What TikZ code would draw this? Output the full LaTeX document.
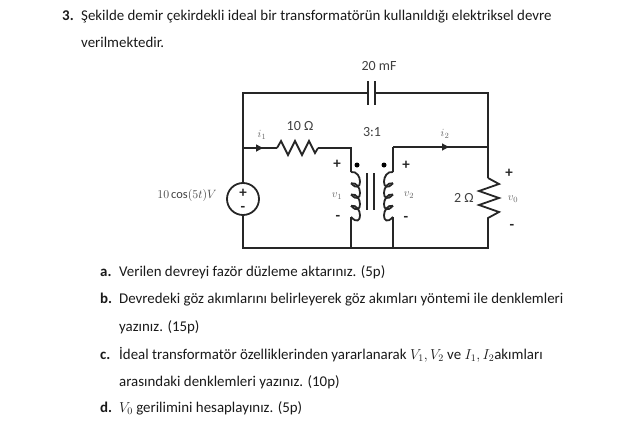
\documentclass[tikz,border=0pt]{standalone}
\usepackage{amsmath}
\usepackage{fontspec}
\setmainfont{Carlito}
\usetikzlibrary{arrows.meta, positioning, calc, decorations.markings}

\tikzset{
    wire/.style={line width=1.8pt, black!85},
    current/.style={wire, postaction={decorate}, decoration={markings, mark=at position #1 with {\arrow{Latex[length=8pt,width=8pt]}}}},
    lbl/.style={font=\fontsize{14}{16}\selectfont, text=black!75, inner sep=0pt},
    sym/.style={font=\fontsize{11}{13}\selectfont, text=black!60, inner sep=0pt},
    sign/.style={font=\fontsize{15}{17}\selectfont\bfseries, text=black!85, inner sep=0pt},
    para/.style={font=\fontsize{14.9}{17}\selectfont, text=black!90, inner sep=0pt, anchor=base west},
    parb/.style={para, font=\fontsize{14.9}{17}\selectfont\bfseries},
    dotmark/.style={circle, fill=black, inner sep=0pt, minimum size=5pt}
}

\begin{document}
\begin{tikzpicture}[x=1pt, y=-1pt]
    \useasboundingbox (0,0) rectangle (640,439);

    % Corners of the circuit
    \coordinate (tl) at (243,93);
    \coordinate (tr) at (488,93);
    \coordinate (bl) at (243,248);
    \coordinate (br) at (488,248);
    \coordinate (ml) at (243,148);
    \coordinate (mr) at (488,147);
    \coordinate (pt) at (351,148);
    \coordinate (pb) at (351,248);
    \coordinate (st) at (393,147);
    \coordinate (sb) at (393,248);
    \coordinate (capl) at (368,93);
    \coordinate (capr) at (375,93);
    \coordinate (ra) at (277,148);
    \coordinate (rb) at (318,148);
    \coordinate (rc) at (488,178);
    \coordinate (rd) at (488,220);
    \coordinate (pa) at (351,172);
    \coordinate (pc) at (351,217);
    \coordinate (sa) at (393,172);
    \coordinate (sc) at (393,217);

    % Source
    \node[circle, draw, line width=1.8pt, black!85, minimum size=32pt, inner sep=0pt] (src) at (243,199) {};
    \node[sign] (srcp) at (243,193) {+};
    \node[sign] (srcm) at (243,209) {-};

    % Wires
    \draw[wire] (src.north) -- (ml) -- (tl) -- (capl);
    \draw[wire] (capr) -- (tr) -- (mr);
    \draw[wire] (src.south) -- (bl) -- (br) -- (rd);
    \draw[current=0.62] (ml) -- (ra);
    \draw[wire] (rb) -- (pt) -- (pa);
    \draw[wire] (pc) -- (pb);
    \draw[current=0.6] (st) -- (mr);
    \draw[wire] (st) -- (sa);
    \draw[wire] (sc) -- (sb);
    \draw[wire] (mr) -- (rc);

    % Capacitor
    \draw[wire] ($(capl)+(0,-12)$) -- ($(capl)+(0,12)$);
    \draw[wire] ($(capr)+(0,-12)$) -- ($(capr)+(0,12)$);

    % Resistors
    \draw[wire] (ra) -- ++(4,-7) -- ++(7,14) -- ++(7,-14) -- ++(7,14) -- ++(7,-14) -- ++(6,12) -- (rb);
    \draw[wire] (rc) -- ++(11,6) -- ++(-20,7) -- ++(20,7) -- ++(-20,7) -- ++(20,7) -- ++(-11,6) -- (rd);

    % Coils
    \foreach \i in {0,1,2,3} {
        \draw[wire] ($(pa)+(0,\i*11.25)$) .. controls +(12,-2) and +(12,13) .. ++(0,11.25);
        \draw[wire] ($(sa)+(0,\i*11.25)$) .. controls +(-12,-2) and +(-12,13) .. ++(0,11.25);
    }

    % Core
    \foreach \x in {367,374} {
        \draw[wire] (\x,173) -- (\x,210);
    }
    \node[dotmark] (dotp) at (357,165) {};
    \node[dotmark] (dots) at (384,165) {};

    % Labels
    \node[lbl] (lc) at (379,66) {20 mF};
    \node[lbl] (lr) at (300,126) {10 Ω};
    \node[lbl] (ln) at (372,132) {3:1};
    \node[lbl] (lrr) at (464,198) {2 Ω};
    \node[lbl, font=\fontsize{12.4}{14}\selectfont] (lv) at (187,195) {$10\cos(5t)V$};
    \node[sym] (li1) at (262,135) {$i_1$};
    \node[sym] (li2) at (445,134) {$i_2$};
    \node[sym] (lv1) at (337,196) {$v_1$};
    \node[sym] (lv2) at (409,195) {$v_2$};
    \node[sym] (lv0) at (513,199) {$v_0$};
    \node[sign] (p1) at (337,164) {+};
    \node[sign] (m1) at (338,218) {-};
    \node[sign] (p2) at (406,165) {+};
    \node[sign] (m2) at (406,219) {-};
    \node[sign] (p0) at (509,173) {+};
    \node[sign] (m0) at (512,227) {-};

    % Text
    \node[parb] (n3) at (62,20) {3.};
    \node[para] (t1) at (81,20) {Şekilde demir çekirdekli ideal bir transformatörün kullanıldığı elektriksel devre};
    \node[para] (t2) at (81,47) {verilmektedir.};
    \node[parb] (na) at (100,276) {a.};
    \node[para] (ta) at (119,276) {Verilen devreyi fazör düzleme aktarınız. (5p)};
    \node[parb] (nb) at (100,303) {b.};
    \node[para] (tb) at (119,303) {Devredeki göz akımlarını belirleyerek göz akımları yöntemi ile denklemleri};
    \node[para] (tb2) at (119,331) {yazınız. (15p)};
    \node[parb] (nc) at (100,359) {c.};
    \node[para] (tc) at (119,359) {İdeal transformatör özelliklerinden yararlanarak $V_1,V_2$ ve $I_1,I_2$akımları};
    \node[para] (tc2) at (119,386) {arasındaki denklemleri yazınız. (10p)};
    \node[parb] (nd) at (100,412) {d.};
    \node[para] (td) at (119,412) {$V_0$ gerilimini hesaplayınız. (5p)};
\end{tikzpicture}
\end{document}
